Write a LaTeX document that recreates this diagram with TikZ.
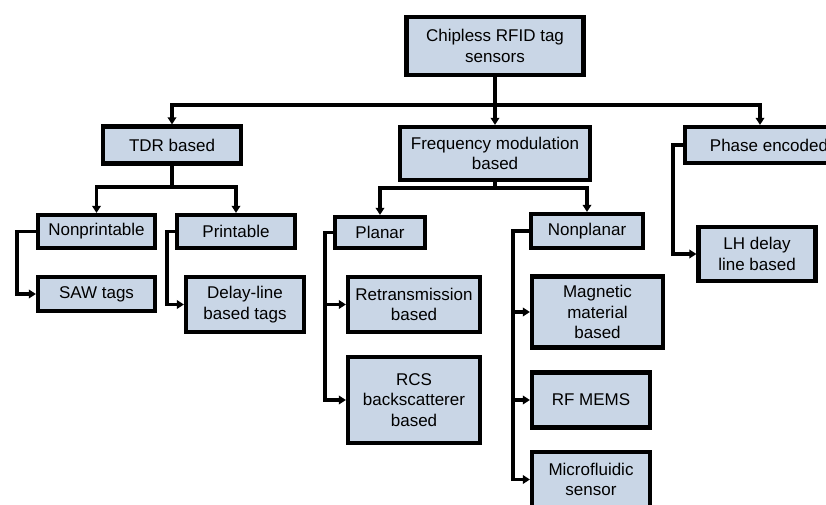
\documentclass[tikz,border=0pt]{standalone}
\usepackage{fontspec}
\setmainfont{Liberation Sans}
\usetikzlibrary{arrows.meta}
\definecolor{boxfill}{RGB}{201,214,230}

\begin{document}
\begin{tikzpicture}[x=1pt,y=-1pt,
  box/.style={draw,line width=4.2pt,fill=boxfill,align=center,inner sep=0pt,
    font=\fontsize{17}{20.5}\selectfont},
  arr/.style={line width=3.4pt,-{Triangle[length=7pt,width=8.5pt]}}]
\useasboundingbox (0,0) rectangle (826,505);

% top two levels
\node[box,minimum width=177pt,minimum height=58pt] (root) at (495,46) {Chipless RFID tag\\sensors};
\node[box,minimum width=138pt,minimum height=37pt] (tdr) at (172,145) {TDR based};
\node[box,minimum width=190pt,minimum height=53pt] (fm) at (495,153.5) {Frequency modulation\\based};
\node[box,minimum width=168pt,minimum height=36pt] (phase) at (769,145) {Phase encoded};

\node[box,minimum width=117pt,minimum height=33pt] (nonprint) at (96.5,231.5) {Nonprintable};
\node[box,minimum width=118pt,minimum height=33pt] (print) at (236,231.5) {Printable};
\node[box,minimum width=90pt,minimum height=31pt] (planar) at (380,232.5) {Planar};
\node[box,minimum width=112pt,minimum height=34pt] (nonplanar) at (587,231) {Nonplanar};

% leaves
\node[box,minimum width=117pt,minimum height=34pt] (saw) at (96.5,294) {SAW tags};
\node[box,minimum width=118pt,minimum height=55pt] (delay) at (245,304.5) {Delay-line\\based tags};
\node[box,minimum width=132pt,minimum height=55pt] (retrans) at (414,304.5) {Retransmission\\based};
\node[box,minimum width=132pt,minimum height=86pt] (rcs) at (414,400) {RCS\\backscatterer\\based};
\node[box,minimum width=131pt,minimum height=71pt] (magnetic) at (597.5,312) {Magnetic\\material\\based};
\node[box,minimum width=118pt,minimum height=55pt] (rfmems) at (591,400) {RF MEMS};
\node[box,minimum width=118pt,minimum height=55pt] (microfl) at (591,479.5) {Microfluidic\\sensor};
\node[box,minimum width=117pt,minimum height=54pt] (lh) at (757,254) {LH delay\\line based};

\coordinate (rootbar) at (495,105);
\coordinate (tdrbar) at (172,187);
\coordinate (fmbar) at (495,188);

\draw[arr] (root) -- (fm);
\draw[arr] (rootbar) -| (tdr);
\draw[arr] (rootbar) -| ([xshift=-9pt]phase.north);
\draw[arr] (tdr) -- (tdrbar) -| (nonprint);
\draw[arr] (tdrbar) -| (print);
\draw[arr] (fm) -- (fmbar) -| (planar);
\draw[arr] (fmbar) -| (nonplanar);

\draw[arr] (nonprint.west) -- ++(-19,0) |- (saw);
\draw[arr] (print.west) -- ++(-8,0) |- (delay);
\draw[arr] (planar.west) -- ++(-8,0) |- (retrans);
\draw[arr] (planar.west) -- ++(-8,0) |- (rcs);
\draw[arr] (nonplanar.west) -- ++(-16,0) |- (magnetic);
\draw[arr] (nonplanar.west) -- ++(-16,0) |- (rfmems);
\draw[arr] (nonplanar.west) -- ++(-16,0) |- (microfl);
\draw[arr] (phase.west) -- ++(-10,0) |- (lh);
\end{tikzpicture}
\end{document}
